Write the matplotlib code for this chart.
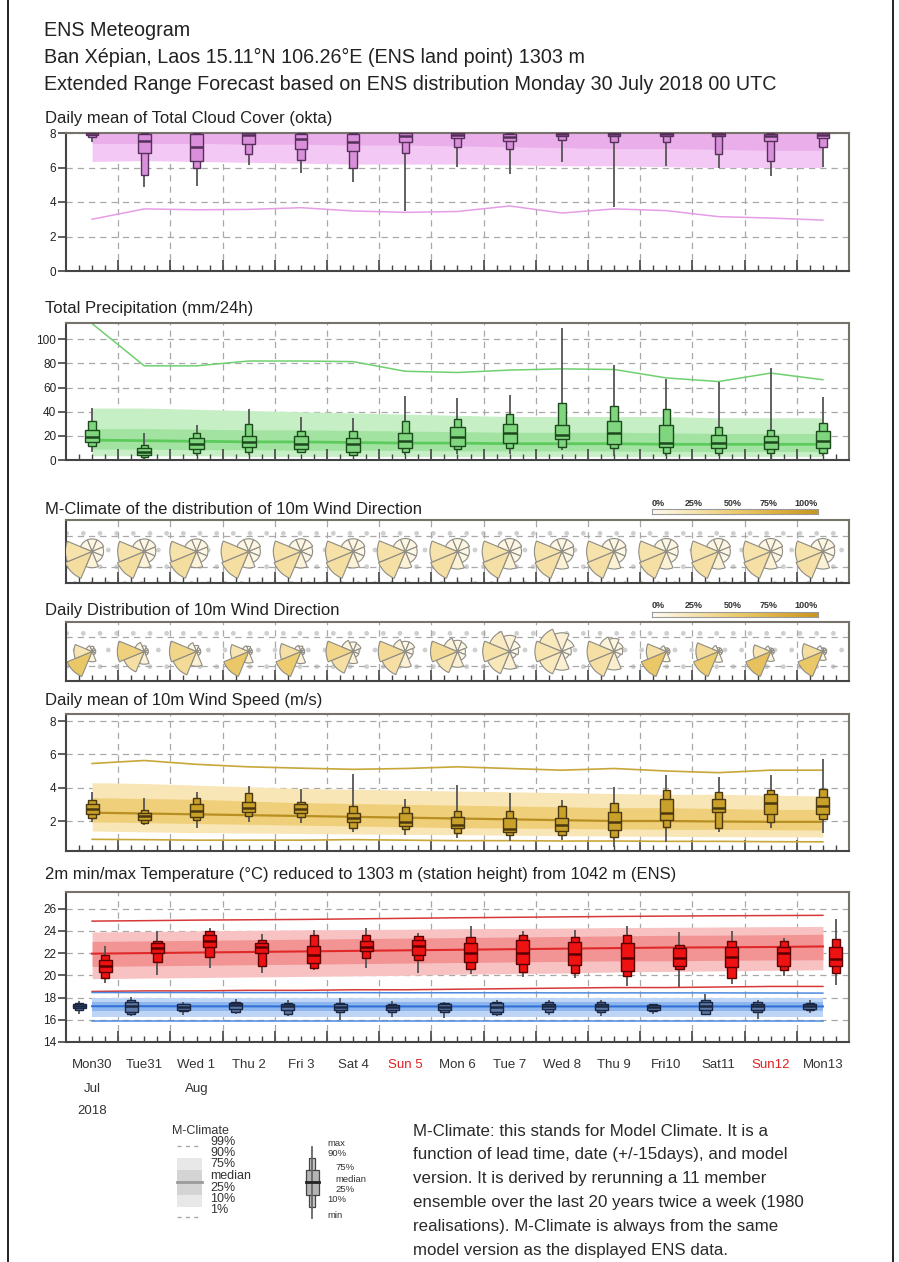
import numpy as np
import matplotlib
matplotlib.use("Agg")
import matplotlib.pyplot as plt
import matplotlib.transforms as mtransforms
from matplotlib.patches import Rectangle, Wedge
from matplotlib.colors import LinearSegmentedColormap

plt.rcParams['font.family'] = ['Liberation Sans', 'DejaVu Sans']

# ---------------- data ----------------
header_lines = ["ENS Meteogram",
                "Ban Xépian, Laos 15.11°N 106.26°E (ENS land point) 1303 m",
                "Extended Range Forecast based on ENS distribution Monday 30 July 2018 00 UTC"]
day_labels = ["Mon30", "Tue31", "Wed 1", "Thu 2", "Fri 3", "Sat 4", "Sun 5", "Mon 6",
              "Tue 7", "Wed 8", "Thu 9", "Fri10", "Sat11", "Sun12", "Mon13"]
sunday_days = [6, 13]
month_days = [0, 2]
month_names = ["Jul", "Aug"]
year_label = "2018"
days = np.arange(15)

# Total cloud cover (okta)
cloud_min = [7.5, 4.85, 4.95, 6.15, 5.7, 5.15, 3.45, 6.05, 5.65, 6.3, 3.7, 6.1, 6.0, 5.5, 6.05]
cloud_p10 = [7.75, 5.55, 5.95, 6.8, 6.45, 6.0, 6.85, 7.2, 7.05, 7.6, 7.45, 7.5, 6.8, 6.4, 7.2]
cloud_p25 = [7.9, 6.85, 6.35, 7.35, 7.05, 6.95, 7.45, 7.7, 7.55, 7.8, 7.8, 7.85, 7.8, 7.55, 7.7]
cloud_med = [8.0, 7.55, 7.2, 7.9, 7.65, 7.45, 7.85, 7.9, 7.75, 7.95, 7.95, 7.95, 7.95, 7.85, 7.9]
cloud_p75 = [8.0, 7.95, 7.95, 7.98, 7.95, 7.95, 7.98, 8.0, 7.95, 8.0, 8.0, 8.0, 8.0, 7.95, 8.0]
cloud_p90 = [8.0] * 15
cloud_max = [8.0] * 15
cloud_clim_p01 = [3.0, 3.6, 3.55, 3.57, 3.67, 3.48, 3.4, 3.45, 3.77, 3.36, 3.6, 3.5, 3.15, 3.07, 2.95]
cloud_clim_p10 = [6.35, 6.4, 6.35, 6.3, 6.25, 6.2, 6.2, 6.2, 6.15, 6.1, 6.1, 6.05, 6.0, 6.0, 6.0]
cloud_clim_p25 = [7.4, 7.4, 7.4, 7.35, 7.35, 7.3, 7.3, 7.25, 7.2, 7.15, 7.1, 7.1, 7.05, 7.0, 7.0]
cloud_clim_p90 = [8.0] * 15

# Total precipitation (mm/24h)
prec_min = [7, 1, 3, 4, 6, 3, 4, 5, 5, 8, 3, 3, 3, 0, 3]
prec_p10 = [12, 2.5, 6, 7, 7, 4, 7, 9, 10, 11, 10, 6, 6, 6, 6]
prec_p25 = [15, 4, 9, 11, 9, 7, 10, 12, 14, 17, 13, 11, 10, 9, 10]
prec_med = [19, 7, 13, 15, 13, 13, 16, 19, 22, 21, 22, 14, 14, 15, 16]
prec_p75 = [25, 10, 18, 19.5, 20, 18, 22, 27, 30, 29, 32, 29, 21, 20, 24]
prec_p90 = [32, 12.5, 22, 30, 24, 24, 32, 34, 38, 47, 45, 42, 27, 25, 31]
prec_max = [43, 22, 29, 42, 36, 35, 53, 51, 54, 109, 79, 67, 65, 76, 52]
prec_clim_p99 = [113, 78, 78, 82, 82, 81.5, 73.5, 72.5, 74.5, 75.5, 75, 68, 65, 72, 66.5]
prec_clim_p90 = [43, 43, 42, 41, 40, 39, 38, 37, 36, 36, 36, 36, 35, 35, 35]
prec_clim_p75 = [26, 26, 25.5, 25, 25, 24.5, 24, 23.5, 23, 23, 23, 22.5, 22, 22, 22]
prec_clim_med = [16.5, 16, 15.5, 15, 15, 14.5, 14, 14, 13.5, 13.5, 13.5, 13, 13, 13, 13]
prec_clim_p25 = [9, 9, 8.5, 8.5, 8, 8, 8, 7.5, 7.5, 7.5, 7.5, 7, 7, 7, 7]
prec_clim_p10 = [3.5, 3.5, 3.5, 3, 3, 3, 3, 3, 3, 3, 3, 3, 3, 3, 3]

# Wind direction frequencies (%), sectors N, NE, E, SE, S, SW, W, NW
rose_dir_deg = [0, 45, 90, 135, 180, 225, 270, 315]
clim_N  = [6, 6, 6, 6, 6, 6, 6, 6, 6, 6, 6, 6, 6, 6, 6]
clim_NE = [6, 6, 6, 6, 6, 6, 6, 6, 6, 6, 6, 6, 6, 6, 6]
clim_E  = [5, 5, 5, 5, 5, 5, 5, 5, 5, 5, 5, 5, 5, 5, 5]
clim_SE = [5, 5, 5, 5, 5, 5, 5, 5, 5, 5, 5, 5, 5, 5, 5]
clim_S  = [10, 10, 10, 10, 10, 10, 10, 11, 11, 11, 11, 11, 11, 11, 11]
clim_SW = [32, 32, 32, 31, 31, 31, 30, 30, 30, 30, 30, 30, 30, 30, 30]
clim_W  = [27, 27, 27, 28, 28, 28, 28, 27, 27, 27, 27, 27, 27, 27, 27]
clim_NW = [6, 6, 6, 6, 6, 6, 6, 6, 6, 6, 6, 6, 6, 6, 6]
daily_N  = [2, 2, 2, 2, 2, 5, 5, 6, 10, 12, 7, 1, 1, 1, 1]
daily_NE = [1, 1, 1, 1, 1, 4, 5, 5, 5, 6, 4, 1, 1, 1, 1]
daily_E  = [1, 1, 1, 1, 1, 2, 3, 3, 3, 3, 3, 1, 1, 1, 1]
daily_SE = [1, 1, 1, 1, 1, 2, 3, 4, 2, 2, 2, 1, 1, 1, 1]
daily_S  = [8, 10, 12, 10, 10, 8, 12, 12, 12, 12, 14, 8, 8, 8, 6]
daily_SW = [55, 30, 35, 55, 50, 30, 30, 25, 22, 20, 30, 55, 50, 60, 55]
daily_W  = [25, 45, 40, 25, 30, 40, 35, 35, 28, 25, 30, 30, 35, 25, 32]
daily_NW = [3, 6, 5, 3, 3, 8, 8, 10, 18, 20, 10, 3, 3, 3, 3]

# 10m wind speed (m/s)
wind_min = [1.96, 1.76, 1.6, 1.96, 1.9, 1.36, 1.16, 0.96, 0.8, 0.86, 0.46, 0.76, 1.36, 1.56, 1.26]
wind_p10 = [2.2, 1.9, 2.06, 2.32, 2.26, 1.6, 1.52, 1.3, 1.16, 1.16, 1.06, 1.66, 1.56, 1.92, 2.12]
wind_p25 = [2.4, 2.06, 2.26, 2.52, 2.46, 1.92, 1.72, 1.56, 1.36, 1.4, 1.46, 2.06, 2.56, 2.4, 2.4]
wind_med = [2.72, 2.3, 2.6, 2.76, 2.72, 2.16, 1.96, 1.76, 1.52, 1.76, 1.92, 2.46, 2.8, 3.06, 2.92]
wind_p75 = [3.0, 2.5, 3.0, 3.12, 3.0, 2.5, 2.46, 2.26, 2.16, 2.16, 2.56, 3.32, 3.32, 3.6, 3.46]
wind_p90 = [3.26, 2.66, 3.36, 3.66, 3.16, 2.92, 2.86, 2.6, 2.6, 2.92, 3.06, 3.86, 3.76, 3.86, 3.92]
wind_max = [3.72, 3.4, 3.76, 4.12, 3.92, 4.8, 3.32, 4.16, 3.66, 3.26, 4.06, 4.76, 4.66, 4.76, 5.72]
wind_clim_p99 = [5.45, 5.63, 5.4, 5.25, 5.17, 5.1, 5.15, 5.25, 5.15, 5.05, 5.15, 5.0, 4.9, 5.05, 5.05]
wind_clim_p90 = [4.3, 4.25, 4.15, 4.05, 3.95, 3.9, 3.85, 3.8, 3.75, 3.7, 3.65, 3.6, 3.6, 3.55, 3.5]
wind_clim_p75 = [3.4, 3.35, 3.3, 3.2, 3.1, 3.05, 3.0, 2.95, 2.9, 2.85, 2.8, 2.8, 2.75, 2.7, 2.7]
wind_clim_med = [2.5, 2.45, 2.4, 2.35, 2.3, 2.25, 2.2, 2.15, 2.1, 2.05, 2.0, 2.0, 1.97, 1.95, 1.95]
wind_clim_p25 = [1.95, 1.9, 1.85, 1.8, 1.75, 1.7, 1.65, 1.6, 1.58, 1.55, 1.52, 1.5, 1.5, 1.48, 1.45]
wind_clim_p10 = [1.4, 1.35, 1.3, 1.28, 1.25, 1.22, 1.2, 1.18, 1.15, 1.12, 1.1, 1.08, 1.06, 1.05, 1.05]
wind_clim_p01 = [0.9, 0.88, 0.85, 0.85, 0.85, 0.88, 0.85, 0.82, 0.82, 0.8, 0.8, 0.78, 0.78, 0.76, 0.75]

# 2m max temperature (°C)
tmax_min = [19.33, 20.03, 20.64, 20.18, 20.48, 20.64, 20.18, 20.12, 19.88, 19.73, 19.03, 18.97, 19.21, 19.94, 19.12]
tmax_p10 = [19.73, 21.24, 21.64, 20.85, 20.64, 21.55, 21.4, 20.55, 20.33, 20.18, 19.94, 20.55, 19.73, 20.48, 20.18]
tmax_p25 = [20.33, 22.0, 22.55, 22.0, 21.1, 22.15, 21.85, 21.24, 21.03, 20.94, 20.42, 20.85, 20.73, 20.85, 20.85]
tmax_med = [20.8, 22.45, 23.06, 22.55, 21.85, 22.55, 22.67, 22.0, 22.0, 21.94, 21.55, 21.55, 21.64, 22.0, 21.45]
tmax_p75 = [21.4, 22.9, 23.67, 22.9, 22.67, 23.06, 23.2, 22.9, 23.15, 22.97, 22.9, 22.45, 22.55, 22.55, 22.55]
tmax_p90 = [21.85, 23.12, 23.97, 23.2, 23.67, 23.67, 23.58, 23.45, 23.67, 23.45, 23.67, 22.76, 23.06, 23.06, 23.27]
tmax_max = [22.67, 23.97, 24.27, 23.76, 24.12, 24.27, 23.82, 24.42, 23.97, 24.12, 24.48, 23.88, 23.97, 23.36, 25.1]
tmax_clim_p99 = [24.88, 24.92, 24.97, 25.0, 25.03, 25.08, 25.13, 25.18, 25.22, 25.26, 25.3, 25.33, 25.36, 25.38, 25.4]
tmax_clim_p90 = [23.9, 23.95, 24.0, 24.05, 24.1, 24.12, 24.15, 24.2, 24.22, 24.25, 24.3, 24.32, 24.35, 24.38, 24.4]
tmax_clim_p75 = [23.05, 23.1, 23.15, 23.2, 23.25, 23.3, 23.35, 23.4, 23.45, 23.5, 23.55, 23.6, 23.62, 23.65, 23.7]
tmax_clim_med = [21.95, 22.0, 22.05, 22.1, 22.15, 22.2, 22.25, 22.3, 22.35, 22.4, 22.45, 22.5, 22.52, 22.55, 22.6]
tmax_clim_p25 = [20.8, 20.85, 20.9, 20.95, 21.0, 21.05, 21.1, 21.15, 21.2, 21.25, 21.3, 21.3, 21.35, 21.38, 21.4]
tmax_clim_p10 = [19.7, 19.75, 19.8, 19.85, 19.9, 19.95, 20.0, 20.1, 20.15, 20.2, 20.3, 20.35, 20.4, 20.45, 20.5]
tmax_clim_p01 = [18.55, 18.6, 18.6, 18.65, 18.65, 18.7, 18.7, 18.75, 18.8, 18.85, 18.9, 18.9, 18.95, 19.0, 19.0]

# 2m min temperature (°C)
tmin_min = [16.5, 16.3, 16.4, 16.5, 16.3, 15.94, 16.24, 16.2, 16.3, 16.4, 16.3, 16.5, 16.4, 16.1, 16.6]
tmin_p10 = [16.85, 16.5, 16.8, 16.7, 16.5, 16.7, 16.7, 16.7, 16.55, 16.7, 16.7, 16.8, 16.55, 16.7, 16.85]
tmin_p25 = [17.06, 16.7, 16.9, 17.0, 16.9, 16.85, 16.9, 16.9, 16.7, 17.0, 16.9, 16.9, 16.9, 16.9, 17.0]
tmin_med = [17.24, 17.2, 17.15, 17.3, 17.2, 17.15, 17.15, 17.15, 17.15, 17.24, 17.24, 17.15, 17.2, 17.24, 17.24]
tmin_p75 = [17.45, 17.6, 17.4, 17.5, 17.45, 17.4, 17.36, 17.4, 17.5, 17.45, 17.45, 17.3, 17.6, 17.45, 17.45]
tmin_p90 = [17.5, 17.76, 17.45, 17.6, 17.5, 17.5, 17.45, 17.5, 17.6, 17.6, 17.6, 17.4, 17.76, 17.6, 17.5]
tmin_max = [17.7, 18.06, 17.6, 17.9, 17.8, 18.0, 17.7, 17.6, 17.76, 17.8, 17.8, 17.45, 18.36, 17.8, 17.76]
tmin_clim_p99 = [18.45, 18.45, 18.45, 18.44, 18.44, 18.44, 18.43, 18.43, 18.43, 18.42, 18.42, 18.42, 18.42, 18.41, 18.4]
tmin_clim_p90 = [18.0] * 15
tmin_clim_p75 = [17.6] * 15
tmin_clim_med = [17.22, 17.22, 17.21, 17.21, 17.2, 17.2, 17.2, 17.2, 17.2, 17.2, 17.2, 17.2, 17.2, 17.2, 17.2]
tmin_clim_p25 = [16.75] * 15
tmin_clim_p10 = [16.25] * 15
tmin_clim_p01 = [15.85] * 15

legend_text = ["M-Climate: this stands for Model Climate. It is a",
               "function of lead time, date (+/-15days), and model",
               "version. It is derived by rerunning a 11 member",
               "ensemble over the last 20 years twice a week (1980",
               "realisations). M-Climate is always from the same",
               "model version as the displayed ENS data."]
mclim_labels = ["99%", "90%", "75%", "median", "25%", "10%", "1%"]
box_labels = ["max", "90%", "75%", "median", "25%", "10%", "min"]
cbar_labels = ["0%", "25%", "50%", "75%", "100%"]

# ---------------- figure ----------------
W, H = 899, 1262
fig = plt.figure(figsize=(W / 100, H / 100), dpi=100)
fig.patch.set_facecolor('white')

L_PX, R_PX = 66, 849
SPINE = '#77736a'
GRID = '#a8a8a8'


def add_ax(top, bottom):
    return fig.add_axes([L_PX / W, 1 - bottom / H, (R_PX - L_PX) / W, (bottom - top) / H])


def style_ax(ax, ylim, yticks=None):
    ax.set_xlim(0, 15)
    ax.set_ylim(*ylim)
    ax.set_xticks(np.arange(0, 16))
    ax.set_xticks(np.arange(0, 15.01, 0.25), minor=True)
    ax.tick_params(axis='x', which='major', direction='in', length=8, width=1.2,
                   color='#444', labelbottom=False)
    ax.tick_params(axis='x', which='minor', direction='in', length=4, width=1.0, color='#444')
    if yticks is not None:
        ax.set_yticks(yticks)
        ax.tick_params(axis='y', which='major', direction='out', length=6, width=1.2,
                       color='#444', labelsize=8.5, labelcolor='#222', pad=1)
        for yv in yticks:
            ax.axhline(yv, color=GRID, lw=0.9, ls=(0, (5, 4)), zorder=0.5)
    else:
        ax.set_yticks([])
    for d in range(1, 15):
        ax.axvline(d, color=GRID, lw=0.9, ls=(0, (5, 4)), zorder=0.5)
    for side, sp in ax.spines.items():
        sp.set_color(SPINE)
        sp.set_linewidth(1.5)
    ax.spines['left'].set_color('#444')
    ax.spines['bottom'].set_color('#444')


def boxes(ax, xs, mn, p10, p25, med, p75, p90, mx, face, edge, ww=0.25, wt=0.14):
    for i, x in enumerate(xs):
        ax.plot([x, x], [mn[i], mx[i]], color='#555', lw=1.3, zorder=3, solid_capstyle='butt')
        ax.add_patch(Rectangle((x - wt / 2, p10[i]), wt, p90[i] - p10[i], fc=face, ec=edge,
                               lw=1.0, zorder=4))
        ax.add_patch(Rectangle((x - ww / 2, p25[i]), ww, p75[i] - p25[i], fc=face, ec=edge,
                               lw=1.0, zorder=5))
        ax.plot([x - ww / 2, x + ww / 2], [med[i], med[i]], color=edge, lw=1.8, zorder=6,
                solid_capstyle='butt')


def title(y, txt):
    fig.text(45 / W, 1 - y / H, txt, fontsize=12, color='#222', va='center', ha='left')


# header
for k, line in enumerate(header_lines):
    fig.text(44 / W, 1 - (31 + 26.5 * k) / H, line, fontsize=14.2, color='#222',
             va='center', ha='left')

xc = days + 0.5

# ---- cloud cover ----
ax1 = add_ax(133, 271)
style_ax(ax1, (0, 8), [0, 2, 4, 6, 8])
ax1.fill_between(xc, cloud_clim_p10, cloud_clim_p90, color='#f4c8f4', lw=0, zorder=1)
ax1.fill_between(xc, cloud_clim_p25, cloud_clim_p90, color='#eaaeea', lw=0, zorder=1.1)
ax1.plot(xc, cloud_clim_p01, color='#e59ee5', lw=1.1, zorder=2)
boxes(ax1, xc, cloud_min, cloud_p10, cloud_p25, cloud_med, cloud_p75, cloud_p90, cloud_max,
      '#d98fd9', '#55305a', ww=0.24, wt=0.14)
title(119, "Daily mean of Total Cloud Cover (okta)")

# ---- precipitation ----
ax2 = add_ax(323, 460)
style_ax(ax2, (0, 113.5), [0, 20, 40, 60, 80, 100])
ax2.fill_between(xc, prec_clim_p10, prec_clim_p90, color='#c6efc6', lw=0, zorder=1)
ax2.fill_between(xc, prec_clim_p25, prec_clim_p75, color='#a2e3a2', lw=0, zorder=1.1)
ax2.plot(xc, prec_clim_med, color='#5ccb5c', lw=2.0, zorder=2)
ax2.plot(xc, prec_clim_p99, color='#6fd06f', lw=1.1, zorder=2)
boxes(ax2, xc, prec_min, prec_p10, prec_p25, prec_med, prec_p75, prec_p90, prec_max,
      '#7fd67f', '#1d4a1d', ww=0.27, wt=0.14)
title(309, "Total Precipitation (mm/24h)")

# ---- wind roses ----
rose_cmap = LinearSegmentedColormap.from_list(
    'rose', ['#fffbf2', '#f7e4b0', '#edcc70', '#ddb040', '#c8961e'])
clim_rose = np.array([clim_N, clim_NE, clim_E, clim_SE, clim_S, clim_SW, clim_W, clim_NW], float).T
daily_rose = np.array([daily_N, daily_NE, daily_E, daily_SE, daily_S, daily_SW, daily_W, daily_NW], float).T


def rose_panel(top, bottom, freqs, rmax_in, ttl_y, ttl, cbar_y):
    ax = add_ax(top, bottom)
    style_ax(ax, (0, 1), None)
    for yv in (0.25, 0.75):
        ax.axhline(yv, color=GRID, lw=0.9, ls=(0, (5, 4)), zorder=0.5)
    bg = Rectangle((0, 0), 1, 1, transform=ax.transAxes, fc='none', ec='#cfcfcf',
                   lw=0, hatch='.', zorder=0.2)
    ax.add_artist(bg)
    for i in days:
        f = freqs[i]
        fmax = f.max()
        trans = fig.dpi_scale_trans + mtransforms.ScaledTranslation(i + 0.5, 0.5, ax.transData)
        for k, d in enumerate(rose_dir_deg):
            r = rmax_in * np.sqrt(f[k] / fmax)
            th = 90 - d
            w = Wedge((0, 0), r, th - 22.5, th + 22.5, transform=trans,
                      fc=rose_cmap(f[k] / 100.0), ec='#8e8c84', lw=0.8, zorder=5)
            ax.add_artist(w)
    title(ttl_y, ttl)
    # colour bar
    cax = fig.add_axes([652 / W, 1 - (cbar_y + 5) / H, 166 / W, 5 / H])
    cax.imshow(np.linspace(0, 1, 256)[None, :], cmap=rose_cmap, aspect='auto',
               extent=[0, 1, 0, 1])
    cax.set_xticks([])
    cax.set_yticks([])
    for sp in cax.spines.values():
        sp.set_color('#9a9a9a')
        sp.set_linewidth(0.8)
    for lab, fx in zip(cbar_labels, [0.04, 0.25, 0.485, 0.70, 0.93]):
        fig.text((652 + 166 * fx) / W, 1 - (cbar_y - 6) / H, lab, fontsize=6.5,
                 fontweight='bold', color='#333', ha='center', va='center')
    return ax


rose_panel(520, 583, clim_rose, 0.29, 509, "M-Climate of the distribution of 10m Wind Direction", 509)
rose_panel(622, 681, daily_rose, 0.27, 611, "Daily Distribution of 10m Wind Direction", 612)

# ---- wind speed ----
ax5 = add_ax(714, 851)
style_ax(ax5, (0.2, 8.42), [2, 4, 6, 8])
ax5.fill_between(xc, wind_clim_p10, wind_clim_p90, color='#f9e6b6', lw=0, zorder=1)
ax5.fill_between(xc, wind_clim_p25, wind_clim_p75, color='#f0cf7a', lw=0, zorder=1.1)
ax5.plot(xc, wind_clim_med, color='#b88f22', lw=1.6, zorder=2)
ax5.plot(xc, wind_clim_p99, color='#c9a63a', lw=1.2, zorder=2)
ax5.plot(xc, wind_clim_p01, color='#c9a63a', lw=1.2, zorder=2)
boxes(ax5, xc, wind_min, wind_p10, wind_p25, wind_med, wind_p75, wind_p90, wind_max,
      '#c9a02a', '#4a3810', ww=0.25, wt=0.14)
title(700, "Daily mean of 10m Wind Speed (m/s)")

# ---- temperature ----
ax6 = add_ax(892, 1042)
style_ax(ax6, (14, 27.5), [14, 16, 18, 20, 22, 24, 26])
ax6.fill_between(xc, tmax_clim_p10, tmax_clim_p90, color='#f9c2c2', lw=0, zorder=1)
ax6.fill_between(xc, tmax_clim_p25, tmax_clim_p75, color='#f29494', lw=0, zorder=1.1)
ax6.plot(xc, tmax_clim_med, color='#e02828', lw=1.5, zorder=2)
ax6.plot(xc, tmax_clim_p99, color='#d83838', lw=1.1, zorder=2)
ax6.plot(xc, tmax_clim_p01, color='#d83838', lw=1.1, zorder=2)
ax6.fill_between(xc, tmin_clim_p10, tmin_clim_p90, color='#bed5f6', lw=0, zorder=1)
ax6.fill_between(xc, tmin_clim_p25, tmin_clim_p75, color='#8db5ee', lw=0, zorder=1.1)
ax6.plot(xc, tmin_clim_med, color='#3272d8', lw=1.5, zorder=2)
ax6.plot(xc, tmin_clim_p99, color='#4c8ae0', lw=1.1, zorder=2)
ax6.plot(xc, tmin_clim_p01, color='#4c8ae0', lw=1.1, zorder=2)
boxes(ax6, days + 0.25, tmin_min, tmin_p10, tmin_p25, tmin_med, tmin_p75, tmin_p90, tmin_max,
      '#5a78a6', '#1a2642', ww=0.25, wt=0.16)
boxes(ax6, days + 0.75, tmax_min, tmax_p10, tmax_p25, tmax_med, tmax_p75, tmax_p90, tmax_max,
      '#ee1212', '#5a0000', ww=0.25, wt=0.16)
title(875, "2m min/max Temperature (°C) reduced to 1303 m (station height) from 1042 m (ENS)")

btrans = mtransforms.blended_transform_factory(ax6.transData, fig.transFigure)
for i, lab in enumerate(day_labels):
    ax6.text(i + 0.5, 1 - 1065 / H, lab, transform=btrans, ha='center', va='center',
             fontsize=9.5, color='#e02020' if i in sunday_days else '#333', clip_on=False)
for d, m in zip(month_days, month_names):
    ax6.text(d + 0.5, 1 - 1089 / H, m, transform=btrans, ha='center', va='center',
             fontsize=9.5, color='#333', clip_on=False)
ax6.text(0.5, 1 - 1111 / H, year_label, transform=btrans, ha='center', va='center',
         fontsize=9.5, color='#333', clip_on=False)

# ---- overlay (legend, text, frame) ----
ov = fig.add_axes([0, 0, 1, 1], zorder=10)
ov.set_xlim(0, W)
ov.set_ylim(H, 0)
ov.axis('off')
ov.plot([8, 8], [0, H], color='#111', lw=1.3)
ov.plot([893, 893], [0, H], color='#111', lw=1.3)

# M-Climate legend
ov.text(172, 1131, "M-Climate", fontsize=9, color='#333', va='center', ha='left')
ov.plot([177, 202], [1146, 1146], color='#aaa', lw=1.0, ls=(0, (3, 3)))
ov.add_patch(Rectangle((177, 1158), 25, 49, fc='#e8e8e8', ec='none'))
ov.add_patch(Rectangle((177, 1170), 25, 25, fc='#d4d4d4', ec='none'))
ov.plot([177, 202], [1182, 1182], color='#9a9a9a', lw=2)
ov.plot([177, 202], [1217, 1217], color='#aaa', lw=1.0, ls=(0, (3, 3)))
for lab, yy in zip(mclim_labels, [1142, 1153, 1164, 1176, 1188, 1199, 1210]):
    ov.text(210, yy, lab, fontsize=9, color='#333', va='center', ha='left')

# box legend
ov.plot([312, 312], [1147, 1218], color='#666', lw=1.3)
ov.add_patch(Rectangle((309, 1158), 6, 49, fc='#c8c8c8', ec='#444', lw=0.9))
ov.add_patch(Rectangle((305.5, 1170), 13, 25, fc='#b4b4b4', ec='#444', lw=0.9))
ov.plot([305.5, 318.5], [1182, 1182], color='#222', lw=2)
for lab, xx, yy in zip(box_labels, [327, 327, 335, 335, 335, 327, 327],
                       [1143, 1154, 1168, 1179, 1190, 1200, 1215]):
    ov.text(xx, yy, lab, fontsize=6.8, color='#333', va='center', ha='left')

for k, line in enumerate(legend_text):
    ov.text(413, 1131 + 24 * k, line, fontsize=12.2, color='#2a2a2a', va='center', ha='left')

fig.savefig("out.png", dpi=100, facecolor='white')
